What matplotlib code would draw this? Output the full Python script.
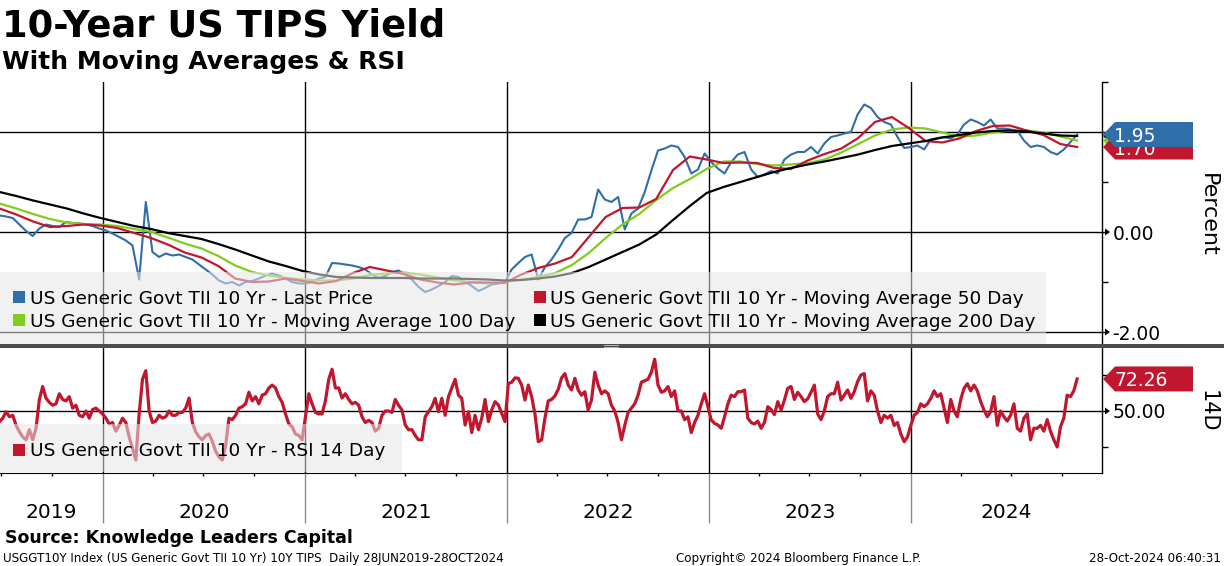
import matplotlib
matplotlib.use("Agg")
import matplotlib.pyplot as plt
import matplotlib.dates as mdates
from matplotlib.patches import Rectangle, Polygon
from matplotlib.lines import Line2D
import pandas as pd

# ---------------- data ----------------
start_date = "2019-06-28"
end_date = "2024-10-28"

# 10Y TIPS yield, sampled roughly every 12 days
last_price = [
    0.33, 0.31, 0.28, 0.15, 0.02, -0.08, 0.07, 0.15, 0.12, 0.10,
    0.20, 0.18, 0.17, 0.15, 0.12, 0.07, 0.03, -0.03, -0.10, -0.17,
    -0.27, -0.95, 0.60, -0.40, -0.50, -0.43, -0.47, -0.45, -0.50, -0.55,
    -0.65, -0.75, -0.85, -0.97, -1.03, -1.00, -1.07, -1.00, -0.98, -0.93,
    -0.87, -0.83, -0.87, -0.93, -1.00, -1.03, -1.03, -1.00, -0.93, -0.90,
    -0.62, -0.63, -0.65, -0.67, -0.70, -0.75,
    -0.85, -0.92, -0.88, -0.80, -0.77, -0.85, -0.95, -1.10, -1.20, -1.15,
    -1.08, -1.00, -0.88, -0.90, -1.00, -1.08, -1.18, -1.12, -1.05, -1.03,
    -1.00, -0.75, -0.62, -0.50, -0.45, -0.95, -0.70, -0.55, -0.35, -0.12,
    -0.02, 0.25, 0.25, 0.30, 0.85, 0.65, 0.60, 0.70, 0.05, 0.37,
    0.47, 0.80, 1.23, 1.63, 1.67, 1.73, 1.70, 1.50, 1.17, 1.25,
    1.57, 1.40, 1.27, 1.17, 1.40,
    1.55, 1.60, 1.25, 1.10, 1.15, 1.22, 1.17, 1.45, 1.55, 1.60,
    1.60, 1.70, 1.57, 1.77, 1.90, 1.93, 1.97, 2.00, 2.35, 2.55,
    2.48, 2.30, 2.20, 2.15, 1.90, 1.68, 1.70, 1.73, 1.65, 1.85,
    1.88, 1.90, 1.87, 1.95, 2.15, 2.25, 2.20, 2.13, 2.25, 2.07,
    2.07, 2.05, 2.03, 1.83, 1.70, 1.73, 1.70, 1.60, 1.55, 1.65,
    1.80, 1.95,
]

# moving averages, sampled roughly monthly
ma_50 = [
    0.47, 0.35, 0.21, 0.10, 0.12, 0.15, 0.13, 0.08, -0.02, -0.12,
    -0.25, -0.41, -0.51, -0.68, -0.93, -1.00, -0.99, -0.93, -0.98, -1.03,
    -0.98, -0.82, -0.70, -0.77, -0.84, -0.95, -1.01, -1.05, -1.01, -1.01,
    -1.02, -0.85, -0.72, -0.63, -0.50, -0.10, 0.30, 0.48, 0.49, 0.66,
    1.24, 1.51, 1.45, 1.38, 1.39, 1.38, 1.28, 1.26, 1.43, 1.56,
    1.67, 1.88, 2.20, 2.30, 2.08, 1.82, 1.79, 1.87, 2.02, 2.12,
    2.13, 2.03, 1.94, 1.76, 1.70,
]
ma_100 = [
    0.57, 0.47, 0.36, 0.26, 0.19, 0.16, 0.15, 0.12, 0.06, 0.00,
    -0.11, -0.23, -0.33, -0.48, -0.67, -0.80, -0.87, -0.92, -0.95, -0.97,
    -0.97, -0.93, -0.86, -0.83, -0.81, -0.85, -0.91, -0.97, -1.00, -1.03,
    -1.00, -0.95, -0.90, -0.82, -0.66, -0.42, -0.12, 0.15, 0.36, 0.64,
    0.88, 1.06, 1.26, 1.41, 1.41, 1.36, 1.33, 1.35, 1.38, 1.45,
    1.59, 1.76, 1.93, 2.05, 2.09, 2.07, 1.99, 1.91, 1.93, 1.99,
    2.03, 2.03, 1.99, 1.91, 1.83,
]
ma_200 = [
    0.80, 0.72, 0.63, 0.55, 0.47, 0.37, 0.28, 0.20, 0.12, 0.06,
    -0.02, -0.08, -0.14, -0.24, -0.35, -0.47, -0.59, -0.68, -0.78, -0.85,
    -0.90, -0.91, -0.92, -0.92, -0.92, -0.93, -0.93, -0.93, -0.94, -0.95,
    -0.97, -0.96, -0.93, -0.89, -0.82, -0.70, -0.55, -0.40, -0.25, -0.05,
    0.24, 0.52, 0.78, 0.90, 1.00, 1.10, 1.20, 1.28, 1.35, 1.41,
    1.48, 1.55, 1.64, 1.72, 1.77, 1.82, 1.89, 1.94, 1.99, 2.02,
    2.03, 2.01, 1.97, 1.93, 1.92,
]

# RSI 14 day, sampled roughly every 6 days
rsi_14 = [
    42.6, 45, 49.5, 46, 47, 40, 35.6, 32, 30, 37,
    30, 38, 58, 67, 59, 56, 54, 55, 62, 58,
    57, 60, 52, 54, 47, 46, 50, 45, 51, 52,
    50, 48, 45, 41, 42, 36, 40, 45, 42, 32,
    24, 16, 48, 72, 78, 50, 42, 43, 47, 45,
    46, 50, 47, 47, 49, 49, 52, 59, 42, 35.6,
    32, 30, 33, 34, 29, 22, 18, 16, 26, 45,
    44, 47, 52, 53, 55, 63, 57, 60, 55, 61,
    62, 66, 68, 66, 60, 56, 48, 41, 39, 34,
    33, 30, 46, 62, 55, 49, 48, 48, 57, 72,
    79, 66, 66, 59, 62, 58, 55, 56, 54, 46, 42,
    43.5, 42, 36, 38, 47, 50, 50, 49, 58, 54,
    50.7, 40.3, 37, 37, 33, 30, 30, 46, 49.5, 53,
    58.8, 49.5, 58.8, 47, 60, 66, 72, 61, 58.8, 40.3,
    49.5, 35, 47, 37, 45, 58, 42.6, 50.7, 56.5, 54.2,
    48.4, 42.6, 69, 70, 73, 72.7, 68, 57.6, 68, 60,
    48, 28.7, 29.9, 45, 57, 58, 60.5, 65, 73, 76,
    68, 64.6, 72.7, 64.6, 61, 63.4, 50.7, 57.6, 77, 68,
    62, 64, 62, 54, 50, 42, 30, 40, 49, 52,
    55, 61, 70, 71, 72, 77, 86, 68, 63, 64,
    67, 60, 64, 50, 50, 44, 46, 35, 42, 47,
    55, 62, 53, 43.8, 41.4, 40.3, 38, 46, 55, 61,
    60, 63.4, 63.4, 64.6, 45, 42, 41, 43, 38, 42,
    53, 51, 47.5, 56.5, 50.7, 57.6, 65.7, 67, 58, 63,
    60, 56.5, 58.5, 63, 68, 48, 44, 50, 60, 62,
    62, 70, 57.6, 61, 64.6, 58.8, 63.4, 70.4, 75, 76,
    57, 64, 61, 50, 42, 47, 45, 47, 40, 42,
    34, 28.7, 32, 40, 47, 49, 55, 53, 55, 58.8,
    64, 60, 62, 52, 42, 58, 50, 46, 58, 65.7,
    69, 64, 68, 64, 56.5, 50.7, 46, 49.5, 60, 40,
    50, 46, 43, 47, 55, 38, 36, 45, 48, 30,
    38, 38, 40, 36, 44, 36, 30, 25, 39, 45,
    61, 60, 64, 72.26,
]

years = [2019, 2020, 2021, 2022, 2023, 2024]
legend_names = [
    "US Generic Govt TII 10 Yr - Last Price",
    "US Generic Govt TII 10 Yr - Moving Average 50 Day",
    "US Generic Govt TII 10 Yr - Moving Average 100 Day",
    "US Generic Govt TII 10 Yr - Moving Average 200 Day",
]
rsi_name = "US Generic Govt TII 10 Yr - RSI 14 Day"

price_dates = pd.date_range(start_date, end_date, periods=len(last_price))
ma50_dates = pd.date_range(start_date, end_date, periods=len(ma_50))
ma100_dates = pd.date_range(start_date, end_date, periods=len(ma_100))
ma200_dates = pd.date_range(start_date, end_date, periods=len(ma_200))
rsi_dates = pd.date_range(start_date, end_date, periods=len(rsi_14))

BLUE = "#2f6ea8"
RED = "#c0172f"
GREEN = "#80cc1f"

W, H = 1224, 566


def fx(px):
    return px / W


def fy(py):
    return 1 - py / H


fig = plt.figure(figsize=(W / 100, H / 100), dpi=100)
ax1 = fig.add_axes([0, fy(344), fx(1102), (344 - 82) / H])
ax2 = fig.add_axes([0, fy(473), fx(1102), (473 - 348) / H])

x_left = pd.Timestamp("2019-06-29")
x_right = pd.Timestamp("2024-12-12")

for ax in (ax1, ax2):
    ax.set_xlim(x_left, x_right)
    ax.spines["left"].set_visible(False)
    ax.spines["top"].set_visible(False)
    ax.spines["right"].set_linewidth(1.0)
    ax.yaxis.tick_right()
    for yr in years[1:]:
        ax.axvline(pd.Timestamp(f"{yr}-01-01"), color="black", lw=1.0, zorder=1)

ax1.spines["bottom"].set_visible(False)
ax1.tick_params(axis="x", which="both", bottom=False, labelbottom=False)

# ---------------- top panel: yield + moving averages ----------------
ax1.set_ylim(-2.24, 3.0)
for v in (2, 0, -2):
    ax1.axhline(v, color="black", lw=1.0, zorder=1)
ax1.plot(price_dates, last_price, color=BLUE, lw=1.5, zorder=2)
ax1.plot(ma100_dates, ma_100, color=GREEN, lw=1.6, zorder=3)
ax1.plot(ma50_dates, ma_50, color=RED, lw=1.6, zorder=4)
ax1.plot(ma200_dates, ma_200, color="black", lw=1.6, zorder=5)
ax1.set_yticks([-2, -1, 0, 1, 2, 3])
ax1.set_yticklabels(["-2.00", "", "0.00", "", "", ""])
ax1.tick_params(axis="y", direction="out", length=4, width=1, pad=3.5, labelsize=13.5)

# ---------------- bottom panel: RSI ----------------
ax2.set_ylim(6.94, 93.75)
ax2.axhline(50, color="black", lw=1.0, zorder=1)
ax2.plot(rsi_dates, rsi_14, color=RED, lw=2.3, zorder=3)
ax2.set_yticks([25, 50, 75])
ax2.set_yticklabels(["", "50.00", ""])
ax2.tick_params(axis="y", direction="out", length=4, width=1, pad=3.5, labelsize=13.5)

ax2.xaxis.set_major_locator(mdates.YearLocator())
ax2.xaxis.set_minor_locator(mdates.MonthLocator(bymonth=[4, 7, 10]))
ax2.tick_params(axis="x", which="major", length=36, color="#8c8c8c", width=1,
                labelbottom=False)
ax2.tick_params(axis="x", which="minor", length=2.5, color="black", width=1)

# year labels centred on the visible part of each year
for yr in years:
    a = max(pd.Timestamp(f"{yr}-01-01"), x_left)
    b = min(pd.Timestamp(f"{yr + 1}-01-01"), x_right)
    xa = ax2.transData.transform((mdates.date2num(a), 50))[0]
    xb = ax2.transData.transform((mdates.date2num(b), 50))[0]
    fig.text(fx((xa + xb) / 2), fy(518.5), str(yr), ha="center", va="baseline",
             fontsize=14.5)


# ---------------- decorations in figure pixels ----------------
def fig_rect(x0, y0, x1, y1, **kw):
    r = Rectangle((fx(x0), fy(y1)), (x1 - x0) / W, (y1 - y0) / H,
                  transform=fig.transFigure, **kw)
    fig.add_artist(r)


def tick_arrow(ax, value):
    yc = H - ax.transData.transform((mdates.date2num(x_left), value))[1]
    pts = [(1105, yc - 3.5), (1110, yc), (1105, yc + 3.5)]
    fig.add_artist(Polygon([(fx(x), fy(y)) for x, y in pts], closed=True,
                           transform=fig.transFigure, facecolor="black",
                           edgecolor="none", zorder=5))


def value_box(ax, value, color, label, z):
    yc = H - ax.transData.transform((mdates.date2num(x_left), value))[1]
    pts = [(1103, yc), (1115, yc - 12.5), (1193, yc - 12.5),
           (1193, yc + 12.5), (1115, yc + 12.5)]
    fig.add_artist(Polygon([(fx(x), fy(y)) for x, y in pts], closed=True,
                           transform=fig.transFigure, facecolor=color,
                           edgecolor="none", zorder=z))
    if label:
        fig.text(fx(1114), fy(yc), label, color="white", fontsize=13.5,
                 ha="left", va="center_baseline", zorder=z + 0.05)


tick_arrow(ax1, 0)
tick_arrow(ax1, -2)
tick_arrow(ax2, 50)

value_box(ax1, ma_200[-1], "black", None, 6.0)
value_box(ax1, ma_100[-1], GREEN, None, 6.1)
value_box(ax1, ma_50[-1], RED, f"{ma_50[-1]:.2f}", 6.2)
value_box(ax1, last_price[-1], BLUE, f"{last_price[-1]:.2f}", 6.3)
value_box(ax2, rsi_14[-1], RED, f"{rsi_14[-1]:.2f}", 6.2)

# legend backgrounds (semi transparent, over the lines)
fig_rect(0, 272, 1046, 344, facecolor="#e6e6e6", alpha=0.55, edgecolor="none", zorder=4)
fig_rect(0, 424, 402, 472, facecolor="#e6e6e6", alpha=0.55, edgecolor="none", zorder=4)

legend_colors = [BLUE, RED, GREEN, "black"]
legend_pos = [(13, 304), (534, 304), (13, 327), (534, 327)]
for name, col, (lx, ly) in zip(legend_names, legend_colors, legend_pos):
    fig_rect(lx, ly - 13, lx + 12, ly - 1, facecolor=col, edgecolor="none", zorder=4.5)
    fig.text(fx(lx + 16.5), fy(ly), name, fontsize=13.3, va="baseline", zorder=4.6)
fig_rect(13, 444, 25, 456, facecolor=RED, edgecolor="none", zorder=4.5)
fig.text(fx(29.5), fy(456.5), rsi_name, fontsize=13.3, va="baseline", zorder=4.6)

# panel separator
fig_rect(0, 344, W, 348, facecolor="#4d4d4d", edgecolor="none", zorder=4.8)
for yy in (345.4, 346.8):
    fig.add_artist(Line2D([fx(604), fx(618)], [fy(yy), fy(yy)], color="#c8c8c8",
                          lw=0.6, transform=fig.transFigure, zorder=4.9))

# axis titles
fig.text(fx(1208), fy(215), "Percent", rotation=270, ha="center", va="center", fontsize=16)
fig.text(fx(1208), fy(411), "14D", rotation=270, ha="center", va="center", fontsize=15)

# titles and footer
fig.text(fx(2), fy(36.5), "10-Year US TIPS Yield", fontsize=26.6, fontweight="bold",
         va="baseline")
fig.text(fx(2), fy(68.5), "With Moving Averages & RSI", fontsize=18, fontweight="bold",
         va="baseline")
fig.text(fx(5), fy(543), "Source: Knowledge Leaders Capital", fontsize=12.5,
         fontweight="bold", va="baseline")
fig.text(fx(3), fy(562),
         "USGGT10Y Index (US Generic Govt TII 10 Yr) 10Y TIPS  Daily 28JUN2019-28OCT2024",
         fontsize=8.6, va="baseline")
fig.text(fx(799), fy(562), "Copyright\u00a9 2024 Bloomberg Finance L.P.", fontsize=8.6,
         ha="center", va="baseline")
fig.text(fx(1221), fy(562), "28-Oct-2024 06:40:31", fontsize=8.6, ha="right",
         va="baseline")

fig.savefig("out.png", dpi=100, facecolor="white")
